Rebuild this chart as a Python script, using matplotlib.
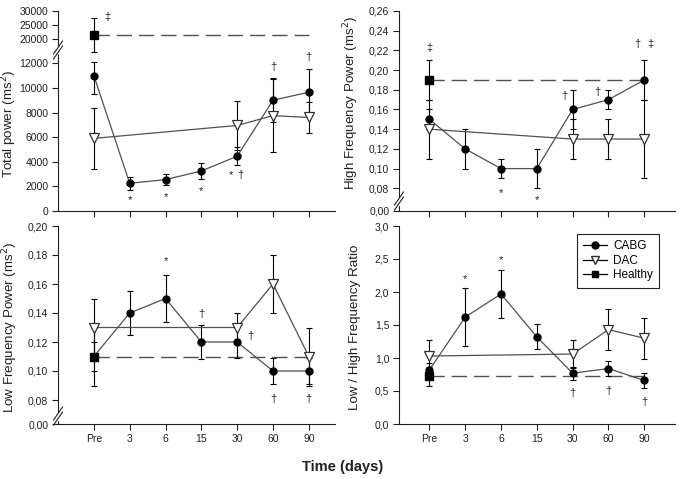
import numpy as np
import matplotlib
matplotlib.use('Agg')
import matplotlib.pyplot as plt
from matplotlib.lines import Line2D

plt.rcParams['font.family'] = ['Liberation Sans Narrow', 'Liberation Sans', 'DejaVu Sans']

days = ['Pre', '3', '6', '15', '30', '60', '90']
dac_days = ['Pre', '30', '60', '90']

# Total power (ms2)
tp_cabg = [11000, 2250, 2550, 3250, 4450, 9000, 9650]
tp_cabg_sd = [1500, 520, 420, 650, 750, 1800, 1850]
tp_dac = [5900, 6950, 7750, 7600]
tp_dac_sd = [2500, 2000, 2950, 1250]
tp_healthy = 21600
tp_healthy_sd = 6000
tp_ticks = [0, 2000, 4000, 6000, 8000, 10000, 12000, 20000, 25000, 30000]

# High frequency power
hf_cabg = [0.15, 0.12, 0.10, 0.10, 0.16, 0.17, 0.19]
hf_cabg_sd = [0.01, 0.02, 0.01, 0.02, 0.02, 0.01, 0.02]
hf_dac = [0.14, 0.13, 0.13, 0.13]
hf_dac_sd = [0.03, 0.02, 0.02, 0.04]
hf_healthy = 0.19
hf_healthy_sd = 0.02
hf_ticks = [0.0, 0.08, 0.10, 0.12, 0.14, 0.16, 0.18, 0.20, 0.22, 0.24, 0.26]

# Low frequency power
lf_cabg = [0.11, 0.14, 0.15, 0.12, 0.12, 0.10, 0.10]
lf_cabg_sd = [0.02, 0.015, 0.016, 0.012, 0.011, 0.009, 0.009]
lf_dac = [0.13, 0.13, 0.16, 0.11]
lf_dac_sd = [0.02, 0.01, 0.02, 0.02]
lf_healthy = 0.11
lf_healthy_sd = 0.01
lf_ticks = [0.0, 0.08, 0.10, 0.12, 0.14, 0.16, 0.18, 0.20]

# LF / HF ratio
r_cabg = [0.82, 1.62, 1.97, 1.32, 0.77, 0.84, 0.66]
r_cabg_sd = [0.10, 0.44, 0.37, 0.19, 0.10, 0.11, 0.12]
r_dac = [1.03, 1.06, 1.43, 1.30]
r_dac_sd = [0.25, 0.21, 0.31, 0.31]
r_healthy = 0.72
r_healthy_sd = 0.14
r_ticks = [0.0, 0.5, 1.0, 1.5, 2.0, 2.5, 3.0]

# significance marks: (x position, y position, symbol)
tp_marks = [(1, 900, '*'), (2, 1100, '*'), (3, 1600, '*'), (3.82, 2900, '*'),
            (4.08, 2900, '†'), (5, 11700, '†'), (6, 14000, '†'), (0.39, 27900, '‡')]
hf_marks = [(0, 0.222, '‡'), (2, 0.064, '*'), (3, 0.038, '*'), (3.77, 0.174, '†'),
            (4.69, 0.178, '†'), (5.82, 0.227, '†'), (6.17, 0.227, '‡')]
lf_marks = [(2, 0.176, '*'), (3, 0.139, '†'), (4.38, 0.124, '†'),
            (5, 0.081, '†'), (6, 0.081, '†')]
r_marks = [(1, 2.19, '*'), (2, 2.48, '*'), (4, 0.47, '†'), (5, 0.50, '†'), (6, 0.34, '†')]

LINE = '#505050'


def piecewise(vals, pos):
    def fwd(v):
        return np.interp(v, vals, pos)

    def inv(p):
        return np.interp(p, pos, vals)
    return fwd, inv


def comma(v, nd):
    return f'{v:.{nd}f}'.replace('.', ',')


def draw_panel(ax, cabg, cabg_sd, dac, dac_sd, healthy, healthy_sd):
    x = np.arange(len(days))
    xd = [days.index(d) for d in dac_days]
    eb = dict(fmt='none', ecolor='black', elinewidth=0.8, capsize=2.5, capthick=0.8, zorder=2)
    ax.errorbar(x, cabg, yerr=cabg_sd, **eb)
    ax.errorbar(xd, dac, yerr=dac_sd, **eb)
    ax.errorbar([0], [healthy], yerr=[healthy_sd], **eb)
    ax.plot([x[0], x[-1]], [healthy, healthy], color=LINE, lw=1.0,
            linestyle=(0, (11, 5)), zorder=1)
    ax.plot(x, cabg, color=LINE, lw=0.9, marker='o', ms=5, mfc='black', mec='black', zorder=3)
    ax.plot(xd, dac, color=LINE, lw=0.9, marker='v', ms=6.5, mfc='white', mec='#303030',
            mew=0.9, zorder=4)
    ax.plot([0], [healthy], marker='s', ms=5.5, color='black', zorder=5)


def style(ax, ticks, nd, xlim, show_x):
    for s in ['top', 'right']:
        ax.spines[s].set_visible(False)
    for s in ['left', 'bottom']:
        ax.spines[s].set_linewidth(0.8)
        ax.spines[s].set_color('#202020')
    ax.set_xlim(*xlim)
    ax.set_xticks(range(len(days)))
    ax.set_xticklabels(days if show_x else [])
    ax.set_yticks(ticks)
    ax.set_yticklabels([comma(t, nd) for t in ticks])
    ax.set_ylim(ticks[0], ticks[-1])
    ax.tick_params(direction='out', length=4, width=0.8, labelsize=7.5,
                   colors='#202020', pad=3)


def add_marks(ax, marks):
    for mx, my, s in marks:
        ax.text(mx, my, s, ha='center', va='center', fontsize=8,
                family=['Liberation Sans', 'DejaVu Sans'], color='#202020')


def add_break(ax, frac):
    bb = ax.get_position()
    w = bb.width * 685
    h = bb.height * 479
    dx, dy, gap = 4.5 / w, 6.5 / h, 2.5 / h
    ax.plot([0, 0], [frac - gap, frac + gap], transform=ax.transAxes, color='white',
            lw=2.5, clip_on=False, zorder=6)
    for off in (-gap, gap):
        ax.plot([-dx, dx], [frac + off - dy, frac + off + dy], transform=ax.transAxes,
                color='#202020', lw=0.8, clip_on=False, zorder=7)


fig = plt.figure(figsize=(6.85, 4.79), dpi=100)
ax1 = fig.add_axes([58 / 685, 268 / 479, 277 / 685, 200 / 479])
ax2 = fig.add_axes([399 / 685, 268 / 479, 276 / 685, 200 / 479])
ax3 = fig.add_axes([58 / 685, 55 / 479, 277 / 685, 198 / 479])
ax4 = fig.add_axes([399 / 685, 55 / 479, 276 / 685, 198 / 479])

ax1.set_yscale('function', functions=piecewise([-1e5, 0, 12000, 20000, 30000, 1e5],
                                               [-1231, 0, 147.7, 172, 200, 396]))
ax2.set_yscale('function', functions=piecewise([-1, 0, 0.08, 0.26, 1],
                                               [-283.75, 0, 22.7, 200, 929]))
ax3.set_yscale('function', functions=piecewise([-1, 0, 0.08, 0.20, 1],
                                               [-300, 0, 24, 198, 1358]))

draw_panel(ax1, tp_cabg, tp_cabg_sd, tp_dac, tp_dac_sd, tp_healthy, tp_healthy_sd)
draw_panel(ax2, hf_cabg, hf_cabg_sd, hf_dac, hf_dac_sd, hf_healthy, hf_healthy_sd)
draw_panel(ax3, lf_cabg, lf_cabg_sd, lf_dac, lf_dac_sd, lf_healthy, lf_healthy_sd)
draw_panel(ax4, r_cabg, r_cabg_sd, r_dac, r_dac_sd, r_healthy, r_healthy_sd)

style(ax1, tp_ticks, 0, (-1.0, 6.73), False)
style(ax2, hf_ticks, 2, (-0.85, 6.86), False)
style(ax3, lf_ticks, 2, (-1.0, 6.73), True)
style(ax4, r_ticks, 1, (-0.85, 6.86), True)

add_marks(ax1, tp_marks)
add_marks(ax2, hf_marks)
add_marks(ax3, lf_marks)
add_marks(ax4, r_marks)

add_break(ax1, 0.805)
add_break(ax2, 0.05)
add_break(ax3, 0.04)

lab = dict(fontsize=9.6, family=['Liberation Sans', 'DejaVu Sans'], color='#202020')
ax1.set_ylabel('Total power (ms$^2$)', **lab)
ax2.set_ylabel('High Frequency Power (ms$^2$)', **lab)
ax3.set_ylabel('Low Frequency Power (ms$^2$)', **lab)
ax4.set_ylabel('Low / High Frequency Ratio', **lab)
ax1.yaxis.set_label_coords(-0.142, 0.435)
ax2.yaxis.set_label_coords(-0.138, 0.54)
ax3.yaxis.set_label_coords(-0.138, 0.49)
ax4.yaxis.set_label_coords(-0.138, 0.49)

for a in (ax3, ax4):
    for t in a.get_xticklabels():
        t.set_fontsize(7.5)

fig.text(343 / 685, 1 - 467 / 479, 'Time (days)', ha='center', va='center',
         fontsize=10.5, fontweight='bold', family=['Liberation Sans', 'DejaVu Sans'],
         color='#202020')

handles = [
    Line2D([], [], color='black', lw=0.9, marker='o', ms=5, mfc='black'),
    Line2D([], [], color='black', lw=0.9, marker='v', ms=6, mfc='white', mec='#303030'),
    Line2D([], [], color='black', lw=0.9, marker='s', ms=5, mfc='black'),
]
leg = ax4.legend(handles, ['CABG', 'DAC', 'Healthy'], loc='upper right',
                 bbox_to_anchor=(0.943, 0.96), borderaxespad=0, fancybox=False,
                 edgecolor='#202020', framealpha=1, handlelength=2.0,
                 prop={'family': ['Liberation Sans', 'DejaVu Sans'], 'size': 8.5},
                 labelspacing=0.2, borderpad=0.55, handletextpad=0.5)
leg.get_frame().set_linewidth(0.8)

fig.savefig('out.png', dpi=100)
